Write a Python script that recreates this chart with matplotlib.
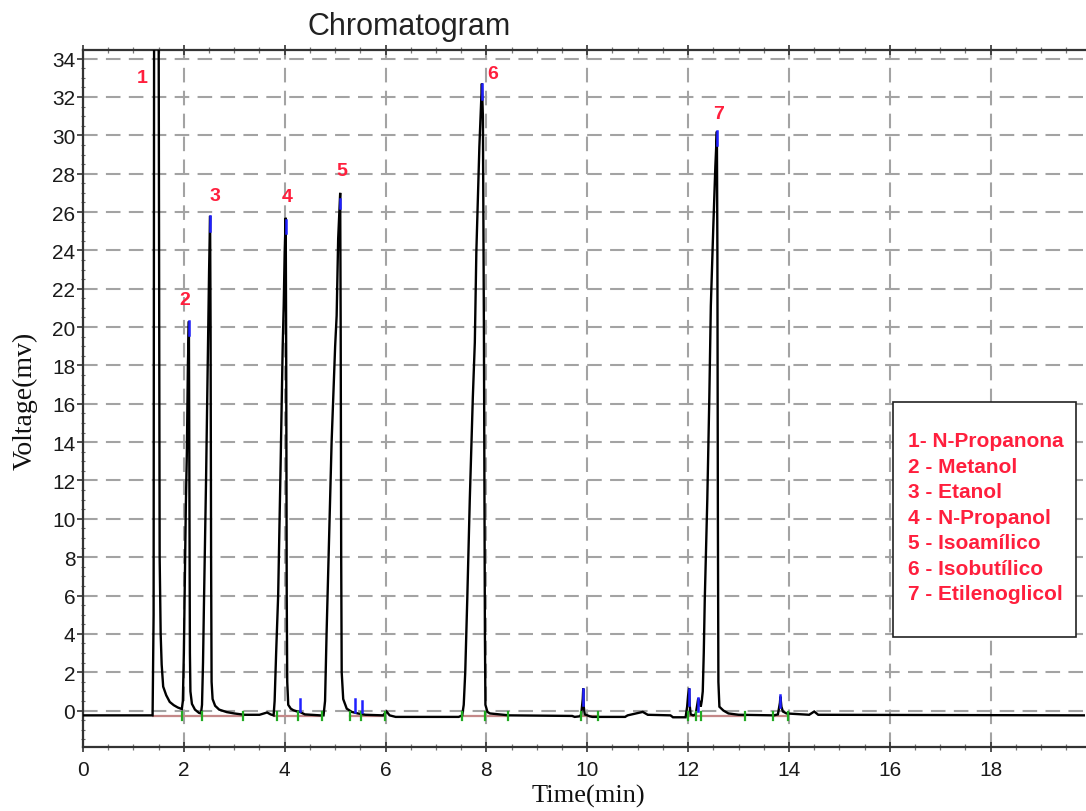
import matplotlib
matplotlib.use("Agg")
import matplotlib.pyplot as plt
from matplotlib.patches import Rectangle
from matplotlib.ticker import MultipleLocator

# ---------------- data ----------------
TIME = [0.00, 1.38, 1.40, 1.41, 1.50, 1.52, 1.54, 1.56, 1.59, 1.65, 1.72, 1.80, 1.88, 1.96,
        1.98, 2.00, 2.02, 2.04, 2.06, 2.08, 2.10, 2.11, 2.12, 2.13, 2.16, 2.22, 2.30, 2.34,
        2.36, 2.38, 2.40, 2.44, 2.47, 2.48, 2.50, 2.52, 2.53, 2.54, 2.55, 2.57, 2.62, 2.70,
        2.85, 3.00, 3.20, 3.50, 3.65, 3.72, 3.78,
        3.80, 3.83, 3.87, 3.92, 3.96, 3.98, 4.00, 4.02, 4.03, 4.04, 4.05, 4.07, 4.12, 4.17,
        4.25, 4.30, 4.40, 4.70, 4.77,
        4.80, 4.83, 4.87, 4.93, 5.00, 5.03, 5.06, 5.10, 5.11, 5.12, 5.13, 5.16, 5.23, 5.33,
        5.45, 5.60, 5.95, 6.02, 6.08, 6.20, 7.45, 7.52,
        7.55, 7.58, 7.62, 7.67, 7.73, 7.77, 7.80, 7.86, 7.91, 7.93, 7.95, 7.97, 7.98, 8.02,
        8.07, 8.45, 9.70, 9.75, 9.85,
        9.88, 9.91, 9.92, 9.93, 9.95, 10.05, 10.10, 10.75, 10.80, 11.10, 11.20, 11.65, 11.70,
        11.95, 11.98, 12.00, 12.02, 12.03, 12.05, 12.10, 12.15, 12.18, 12.20, 12.22, 12.25,
        12.27, 12.29, 12.31, 12.33, 12.38, 12.42, 12.45, 12.50, 12.54, 12.57, 12.58, 12.59,
        12.60, 12.62, 12.70, 12.80, 13.00, 13.70,
        13.78, 13.82, 13.83, 13.85, 13.88, 13.95, 14.40, 14.50, 14.58, 19.90]
VOLT = [-0.25, -0.25, 5.0, 36.0, 36.0, 8.0, 4.0, 2.4, 1.25, 0.80, 0.45, 0.28, 0.16, 0.08,
        0.5, 3.0, 7.0, 10.8, 13.5, 18.0, 20.3, 12.0, 3.0, 1.0, 0.35, 0.05, -0.12, -0.15,
        0.3, 2.5, 5.8, 12.0, 17.5, 19.4, 22.9, 25.8, 20.0, 8.0, 1.5, 0.6, 0.25, 0.05,
        -0.08, -0.15, -0.22, -0.22, -0.10, -0.20, -0.25,
        0.5, 3.0, 6.0, 13.0, 19.0, 21.1, 24.0, 25.7, 18.0, 6.0, 1.5, 0.3, 0.1, 0.02,
        -0.05, -0.07, -0.20, -0.25, -0.25,
        0.5, 4.0, 8.0, 14.0, 19.0, 20.6, 24.6, 27.0, 20.0, 8.0, 2.0, 0.6, 0.1, -0.07,
        -0.15, -0.22, -0.25, -0.05, -0.25, -0.33, -0.33, -0.25,
        0.3, 2.0, 5.8, 11.0, 16.3, 19.2, 23.9, 29.4, 32.7, 31.0, 20.0, 4.0, 0.3, -0.07,
        -0.15, -0.25, -0.28, -0.33, -0.30,
        -0.2, 0.6, 1.15, 0.2, -0.2, -0.30, -0.33, -0.33, -0.25, -0.07, -0.22, -0.25, -0.35,
        -0.35, 0.2, 0.8, 1.15, 0.3, -0.2, -0.25, -0.2, 0.3, 0.63, 0.5, 0.2,
        0.5, 1.0, 3.0, 5.8, 11.0, 16.3, 21.1, 25.3, 28.4, 30.2, 24.0, 10.0,
        1.5, 0.2, 0.0, -0.15, -0.22, -0.25,
        -0.2, 0.4, 0.73, 0.2, -0.05, -0.15, -0.22, -0.05, -0.22, -0.25]

# peak-top (blue) markers
BLUE_T = [2.10, 2.52, 4.02, 5.10, 7.91, 12.57, 4.30, 5.39, 5.54, 9.92, 12.02, 12.20, 13.83]
BLUE_LO = [19.6, 25.0, 24.9, 26.2, 31.9, 29.5, 0.0, -0.1, -0.1, 0.3, 0.3, 0.0, 0.2]
BLUE_HI = [20.3, 25.8, 25.6, 26.7, 32.7, 30.2, 0.6, 0.6, 0.5, 1.15, 1.15, 0.63, 0.8]

# integration start / stop (green) markers
GREEN_T = [1.96, 2.35, 3.18, 3.84, 4.27, 4.73, 5.29, 5.51, 5.99, 7.51, 7.98, 8.42,
           9.87, 10.22, 12.00, 12.15, 12.25, 13.12, 13.69, 13.98]

# integration baselines (start, stop)
BASE_START = [1.38, 1.96, 2.35, 3.78, 4.27, 5.29, 7.51, 9.87, 12.00, 13.69]
BASE_STOP = [1.96, 2.35, 3.18, 4.27, 4.73, 5.99, 8.42, 10.22, 13.12, 13.98]
BASE_LEVEL = -0.28

# peak numbers
LABELS = ["1", "2", "3", "4", "5", "6", "7"]
LABEL_T = [1.18, 2.01, 2.62, 4.04, 5.13, 8.12, 12.61]
LABEL_V = [33.0, 21.46, 26.84, 26.81, 28.18, 33.23, 31.15]

LEGEND_LINES = ["1- N-Propanona", "2 - Metanol", "3 - Etanol", "4 - N-Propanol",
                "5 - Isoamílico", "6 - Isobutílico", "7 - Etilenoglicol"]

X_TICKS = list(range(0, 20, 2))
Y_TICKS = list(range(0, 35, 2))

# ---------------- drawing ----------------
plt.rcParams["lines.scale_dashes"] = False
SANS = ["Liberation Sans", "DejaVu Sans"]
SERIF = ["Liberation Serif", "DejaVu Serif"]
RED = "#ff1f3d"

fig = plt.figure(figsize=(10.86, 8.12), dpi=100)
ax = fig.add_axes([83 / 1086, 64 / 812, 1002 / 1086, 697 / 812])

ax.set_xlim(0, 19.87)
ax.set_ylim(-1.9, 34.45)
ax.set_xticks(X_TICKS)
ax.set_yticks(Y_TICKS)
ax.xaxis.set_minor_locator(MultipleLocator(0.5))
ax.yaxis.set_minor_locator(MultipleLocator(0.5))

ax.grid(True, which="major", color="#a3a3a3", lw=1.5, ls=(0, (10.5, 6.0)), zorder=0)
ax.set_axisbelow(True)

for s in ["left", "bottom", "top"]:
    ax.spines[s].set_color("#333333")
    ax.spines[s].set_linewidth(1.6)
ax.spines["right"].set_visible(False)

ax.tick_params(axis="y", which="major", direction="out", length=4, width=1.2,
               pad=1.5, labelsize=15, colors="#333333", labelcolor="#1a1a1a")
ax.tick_params(axis="y", which="minor", direction="inout", length=3, width=0.8,
               colors="#666666")
ax.tick_params(axis="x", which="major", direction="inout", length=7, width=1.2,
               pad=6, labelsize=15, colors="#333333", labelcolor="#1a1a1a", top=True)
ax.tick_params(axis="x", which="minor", direction="inout", length=5, width=0.9,
               colors="#777777", top=True)
for lab in ax.get_xticklabels() + ax.get_yticklabels():
    lab.set_family(SANS)

# integration baselines
for a, b in zip(BASE_START, BASE_STOP):
    ax.plot([a, b], [BASE_LEVEL, BASE_LEVEL], color="#c48888", lw=1.6, zorder=2)

# trace
ax.plot(TIME, VOLT, color="black", lw=1.7, zorder=3, solid_joinstyle="miter")

# green marks
for t in GREEN_T:
    ax.plot([t, t], [-0.5, -0.05], color="#22aa22", lw=1.6, zorder=4)

# blue marks
for t, lo, hi in zip(BLUE_T, BLUE_LO, BLUE_HI):
    ax.plot([t, t], [lo, hi], color="#2020ff", lw=1.8, zorder=4)

# peak numbers
for s, t, v in zip(LABELS, LABEL_T, LABEL_V):
    ax.text(t, v, s, color=RED, fontsize=14, fontweight="bold", family=SANS,
            ha="center", va="center", zorder=5)

# legend box
ax.add_patch(Rectangle((0.808, 0.158), 0.9907 - 0.808, 0.495 - 0.158,
                       transform=ax.transAxes, facecolor="white", edgecolor="#222222",
                       lw=1.2, zorder=6))
for i, s in enumerate(LEGEND_LINES):
    ypix = 441.7 + i * 25.55
    ax.text(0.8234, (748 - ypix) / 697, s, transform=ax.transAxes, color=RED,
            fontsize=15, fontweight="bold", family=SANS, ha="left", va="center",
            zorder=7)

# titles / axis labels
fig.text(409.5 / 1086, 1 - 27 / 812, "Chromatogram", fontsize=22, family=SANS,
         color="#222222", ha="center", va="center")
fig.text(588.5 / 1086, (812 - 803) / 812, "Time(min)", fontsize=19, family=SERIF,
         color="#111111", ha="center", va="baseline")
fig.text(25 / 1086, (812 - 401) / 812, "Voltage(mv)", fontsize=20, family=SERIF,
         color="#111111", ha="center", va="center", rotation=90)

fig.savefig("out.png", dpi=100)
